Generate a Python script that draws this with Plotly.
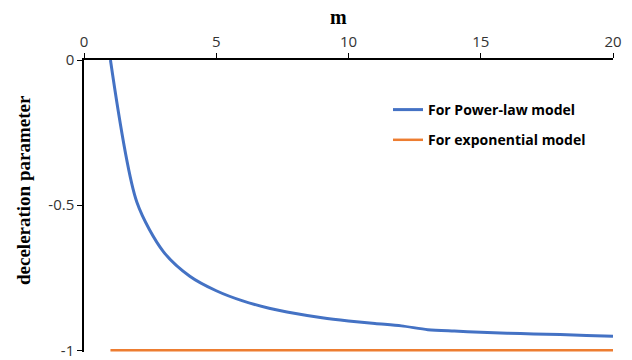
import plotly.graph_objects as go

# deceleration parameter versus m
m_values = [1, 2, 3, 4, 5, 6, 7, 8, 9, 10, 11, 12, 13, 14, 15, 16, 17, 18, 19, 20]
q_power_law = [0.0, -0.49, -0.66, -0.745, -0.795, -0.83, -0.855, -0.873, -0.888,
               -0.899, -0.908, -0.916, -0.929, -0.934, -0.938, -0.941, -0.944,
               -0.946, -0.949, -0.952]
q_exponential = [-1.0] * len(m_values)

x_ticks = [0, 5, 10, 15, 20]
y_ticks = [0, -0.5, -1]
y_tick_text = ["0", "-0.5", "-1"]

fig = go.Figure()
fig.add_trace(go.Scatter(
    x=m_values, y=q_power_law, mode="lines", name="For Power-law model",
    legendgroup="power", line=dict(color="#4472C4", width=3, shape="spline", smoothing=0.8),
))
fig.add_trace(go.Scatter(
    x=m_values, y=q_exponential, mode="lines", name="For exponential model",
    legendgroup="exp", line=dict(color="#ED7D31", width=2.5),
))

tick_font = dict(family="Open Sans, Liberation Sans, sans-serif", size=15, color="#333333")

plot_h = 292  # plot-area height in pixels
fig.update_layout(
    width=632, height=360,
    margin=dict(l=84, r=19, t=60, b=360 - 60 - plot_h, autoexpand=False),
    paper_bgcolor="white", plot_bgcolor="white",
    showlegend=True,
    legend=dict(
        x=(388 - 84) / 529, y=1 - (94 - 60) / plot_h, xanchor="left", yanchor="top",
        font=dict(family="Open Sans, Liberation Sans, sans-serif", size=14, color="#000000",
                  weight="bold"),
        bgcolor="rgba(0,0,0,0)", tracegroupgap=9, itemwidth=30,
    ),
    xaxis=dict(
        side="top", range=[0, 20], tickvals=x_ticks, showgrid=False, zeroline=False,
        showline=True, linecolor="#000000", linewidth=1.5,
        ticks="outside", ticklen=5, tickwidth=1.2, tickcolor="#000000",
        tickfont=tick_font, automargin=False,
    ),
    yaxis=dict(
        range=[-1.006, 0], tickvals=y_ticks, ticktext=y_tick_text, showgrid=False,
        zeroline=False, showline=True, linecolor="#000000", linewidth=1.5,
        ticks="outside", ticklen=5, tickwidth=1.2, tickcolor="#000000",
        tickfont=tick_font, automargin=False,
    ),
    annotations=[
        dict(text="<b>m</b>", xref="paper", yref="paper",
             x=(338 - 84) / 529, y=1 + (60 - 17) / plot_h, xanchor="center", yanchor="middle",
             showarrow=False,
             font=dict(family="Liberation Serif, Times New Roman, serif", size=20, color="#000000")),
        dict(text="<b>deceleration parameter</b>", xref="paper", yref="paper",
             x=(23 - 84) / 529, y=1 - (190 - 60) / plot_h, xanchor="center", yanchor="middle",
             textangle=-90, showarrow=False,
             font=dict(family="Liberation Serif, Times New Roman, serif", size=19, color="#000000")),
    ],
)

fig.write_html("out.html")
